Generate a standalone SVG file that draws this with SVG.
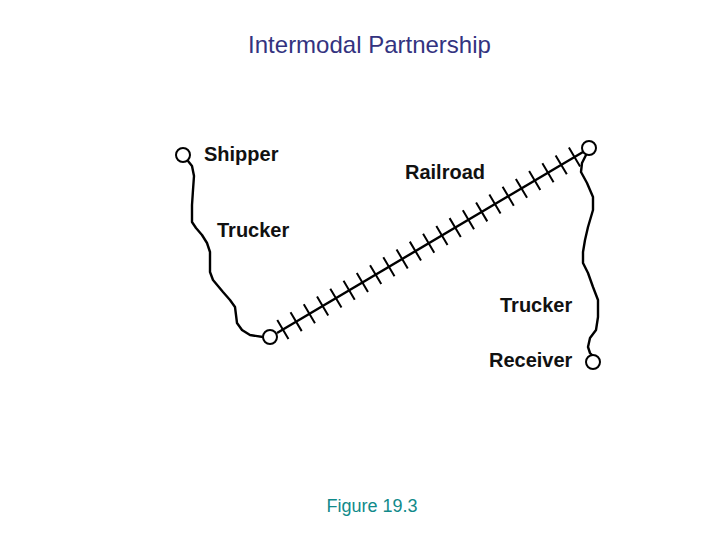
<svg xmlns="http://www.w3.org/2000/svg" width="720" height="540" viewBox="0 0 720 540">
<style>
.lbl{font-family:"Liberation Sans",Arial,sans-serif;font-weight:bold;font-size:20px;fill:#111}
.road{fill:none;stroke:#000;stroke-width:2.4;stroke-linejoin:round;stroke-linecap:round}
.rail{stroke:#000;stroke-width:2.4}
.ties{stroke:#000;stroke-width:22;stroke-dasharray:2 13.4}
.stop{fill:#fff;stroke:#000;stroke-width:2}
</style>
<rect width="720" height="540" fill="#fff"/>
<text x="369.5" y="53" text-anchor="middle" font-family="'Liberation Sans',Arial,sans-serif" font-size="24" fill="#333380">Intermodal Partnership</text>
<g id="connectors">
<path id="trucker-left" class="road" d="M188,161 L192,166 L194,176 L193,190 L192,205 L192,222 L196,228 L202,235 L207,243 L210,252 L210,262 L210,272 L213,280 L218,286 L223,292 L230,300 L235,307 L236,315 L237,323 L242,330 L250,335 L263,337"/>
<g id="railroad">
<line class="rail" x1="277" y1="333" x2="583" y2="152"/>
<line class="ties" x1="282" y1="330" x2="583" y2="152"/>
</g>
<path id="trucker-right" class="road" d="M586,155 L582,163 L581,172 L587,183 L593,197 L593,210 L588,227 L585,240 L583,252 L583,263 L588,273 L593,287 L598,300 L598,317 L596,330 L590,338 L588,347 L590,353 L592,355"/>
</g>
<g id="shipper"><circle class="stop" cx="183" cy="155" r="7"/><text class="lbl" x="204" y="161">Shipper</text></g>
<g id="trucker1"><text class="lbl" x="217" y="237">Trucker</text></g>
<g id="railyard"><circle class="stop" cx="270" cy="337" r="7"/></g>
<g id="railroad-label"><text class="lbl" x="405" y="179">Railroad</text></g>
<g id="railend"><circle class="stop" cx="589" cy="148" r="7"/></g>
<g id="trucker2"><text class="lbl" x="500" y="312">Trucker</text></g>
<g id="receiver"><circle class="stop" cx="593" cy="362" r="7"/><text class="lbl" x="489" y="367">Receiver</text></g>
<text x="372" y="512" text-anchor="middle" font-family="'Liberation Sans',Arial,sans-serif" font-size="18" fill="#108a8a">Figure 19.3</text>
</svg>
